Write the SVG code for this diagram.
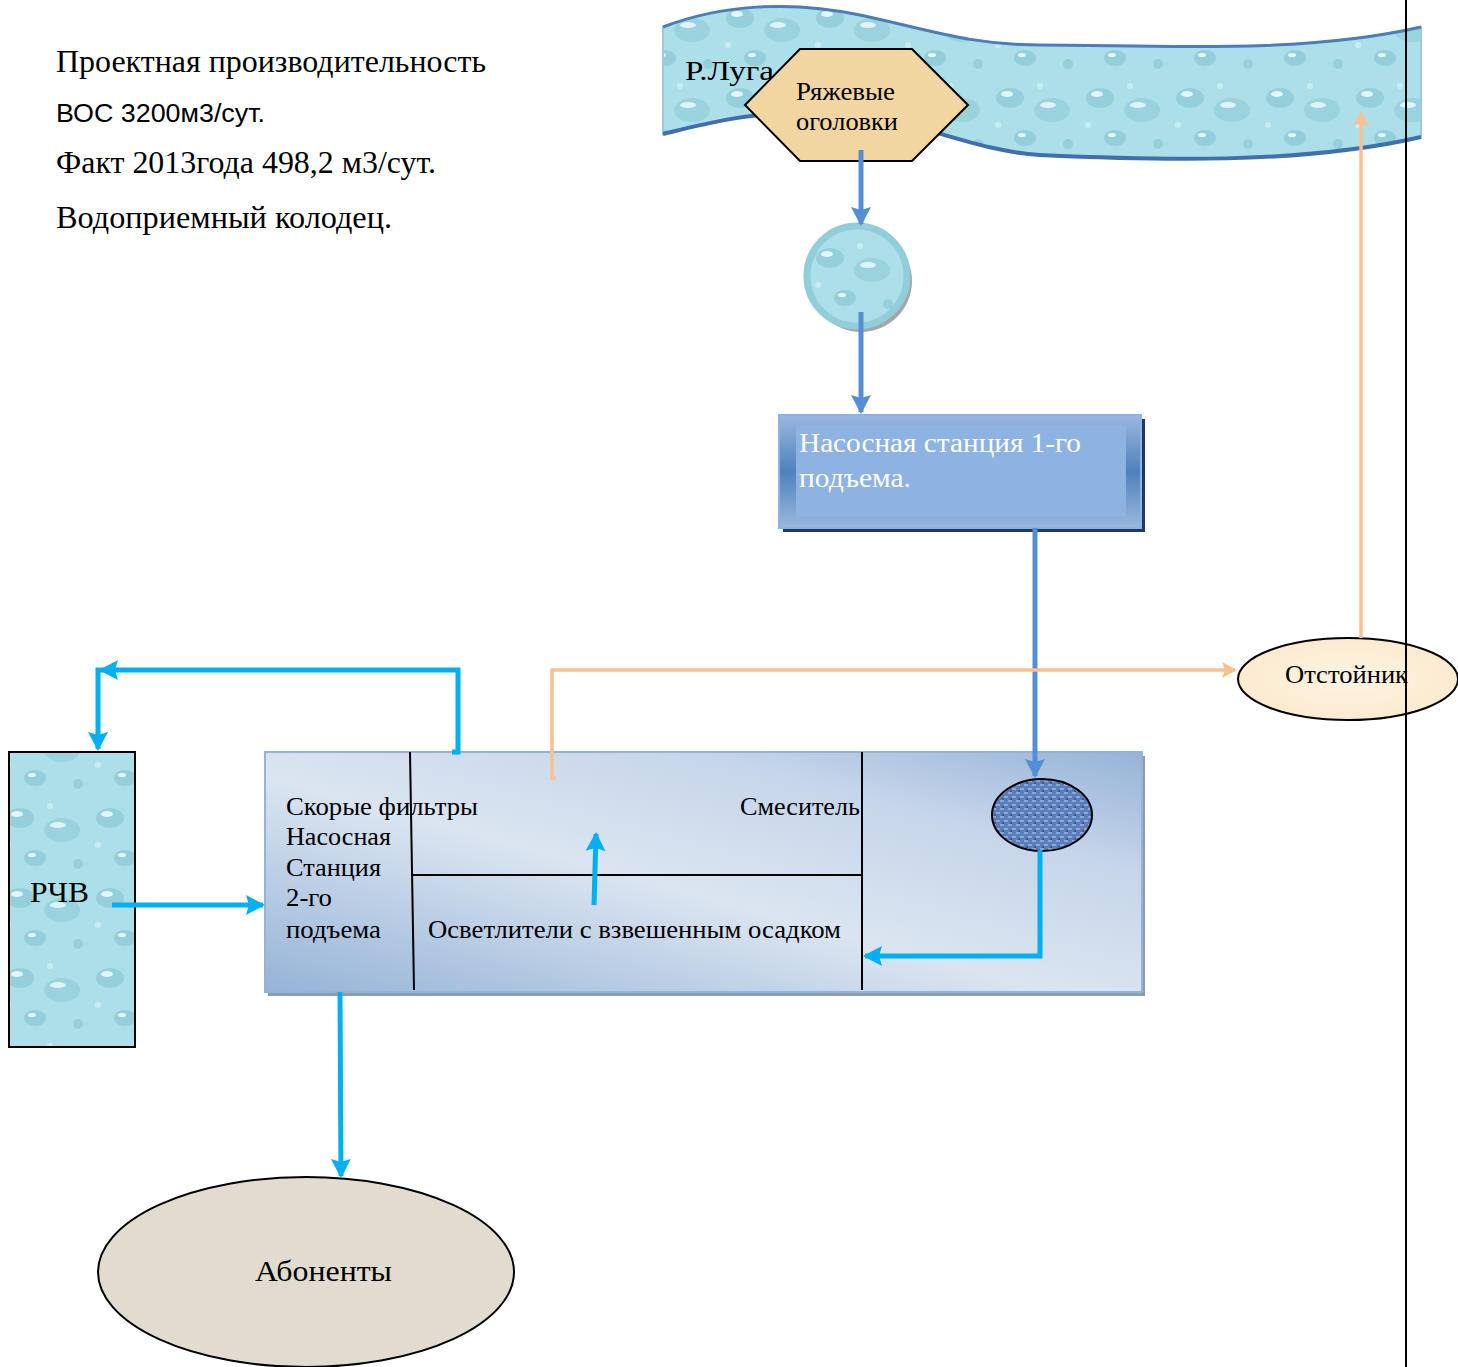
<svg xmlns="http://www.w3.org/2000/svg" width="1458" height="1367" viewBox="0 0 1458 1367">
<style>
.t{font-family:"Liberation Serif","Times New Roman",serif;fill:#000}
.a{font-family:"Liberation Sans",Arial,sans-serif;fill:#000}
.w{fill:#fff}
.cy{fill:none;stroke:#00b0f0;stroke-width:5}
.bl{fill:none;stroke:#558ed5;stroke-width:5}
.or{fill:none;stroke:#fac090;stroke-width:3.5}
.ln{stroke:#000;stroke-width:2;fill:none}
</style>
<defs>
<pattern id="water" width="90" height="80" patternUnits="userSpaceOnUse">
<rect width="90" height="80" fill="#addfe9"/>
<ellipse cx="20" cy="18" rx="14" ry="10" fill="#96cfdc"/>
<ellipse cx="17" cy="14" rx="6" ry="3" fill="#e3f6fa"/>
<ellipse cx="62" cy="30" rx="18" ry="12" fill="#9ad2de"/>
<ellipse cx="58" cy="25" rx="8" ry="3" fill="#dff4f8"/>
<ellipse cx="35" cy="58" rx="11" ry="8" fill="#94cedb"/>
<ellipse cx="32" cy="55" rx="4" ry="2" fill="#e6f7fa"/>
<circle cx="78" cy="64" r="5" fill="#96cfdc"/>
<circle cx="8" cy="45" r="3" fill="#c8edf4"/>
<circle cx="50" cy="6" r="3" fill="#c8edf4"/>
</pattern>
<pattern id="cloth" width="8" height="8" patternUnits="userSpaceOnUse">
<rect width="8" height="8" fill="#5a7cb8"/>
<rect x="0" y="0" width="4" height="2" fill="#8aa6d6"/>
<rect x="4" y="4" width="4" height="2" fill="#8aa6d6"/>
<rect x="2" y="6" width="2" height="2" fill="#3e5c94"/>
</pattern>
<linearGradient id="bigbox" x1="0" y1="1" x2="1" y2="0">
<stop offset="0" stop-color="#95b3d7"/>
<stop offset="0.45" stop-color="#dbe5f1"/>
<stop offset="0.75" stop-color="#c6d5ea"/>
<stop offset="1" stop-color="#95b3d7"/>
</linearGradient>
<linearGradient id="ns1" x1="0" y1="0" x2="0" y2="1">
<stop offset="0" stop-color="#9ab8df"/>
<stop offset="0.5" stop-color="#4f81bd"/>
<stop offset="1" stop-color="#9ab8df"/>
</linearGradient>
<radialGradient id="otst" cx="0.5" cy="0.5" r="0.6">
<stop offset="0" stop-color="#fdf3e2"/>
<stop offset="1" stop-color="#fbe9cc"/>
</radialGradient>
<marker id="mcy" markerWidth="22" markerHeight="22" refX="17" refY="10" orient="auto" markerUnits="userSpaceOnUse" overflow="visible"><path d="M0,0 L19,10 L0,20 L3,10 z" fill="#00b0f0"/></marker>
<marker id="mbl" markerWidth="22" markerHeight="22" refX="17" refY="10" orient="auto" markerUnits="userSpaceOnUse" overflow="visible"><path d="M0,0 L19,10 L0,20 L3,10 z" fill="#558ed5"/></marker>
<marker id="mor" markerWidth="18" markerHeight="18" refX="13" refY="8" orient="auto" markerUnits="userSpaceOnUse" overflow="visible"><path d="M0,0 L15,8 L0,16 L3,8 z" fill="#fac090"/></marker>
</defs>

<g id="info">
<text class="t" x="56" y="72" font-size="31" textLength="430" lengthAdjust="spacingAndGlyphs">Проектная производительность</text>
<text class="a" x="56" y="122" font-size="26" textLength="209" lengthAdjust="spacingAndGlyphs">ВОС 3200м3/сут.</text>
<text class="t" x="56" y="173" font-size="31" textLength="380" lengthAdjust="spacingAndGlyphs">Факт 2013года 498,2 м3/сут.</text>
<text class="t" x="56" y="228" font-size="31" textLength="336" lengthAdjust="spacingAndGlyphs">Водоприемный колодец.</text>
</g>

<g id="river">
<path d="M663,27 C720,5 790,0 860,15 C930,30 970,45 1040,45 C1150,45 1300,55 1421,27 L1421,137 C1300,165 1150,160 1040,155 C960,150 900,108 800,112 C740,114 700,125 663,134 Z" fill="url(#water)" stroke="#9ccbe0" stroke-width="2"/>
<path d="M663,27 C720,5 790,0 860,15 C930,30 970,45 1040,45 C1150,45 1300,55 1421,27" fill="none" stroke="#4a7ebb" stroke-width="3"/>
<path d="M663,134 C700,125 740,114 800,112 C900,108 960,150 1040,155 C1150,160 1300,165 1421,137" fill="none" stroke="#3f6fae" stroke-width="4"/>
<text class="t" x="685" y="80" font-size="28" textLength="89" lengthAdjust="spacingAndGlyphs">Р.Луга</text>
</g>

<g id="hex">
<polygon points="745,105 800,49 912,49 968,105 912,161 800,161" fill="#f2d6a2" stroke="#000" stroke-width="2"/>
<text class="t" x="796" y="100" font-size="25" textLength="99" lengthAdjust="spacingAndGlyphs">Ряжевые</text>
<text class="t" x="796" y="130" font-size="25" textLength="102" lengthAdjust="spacingAndGlyphs">оголовки</text>
</g>

<g id="well">
<circle cx="861" cy="281" r="51" fill="#a6a6a6"/>
<circle cx="857" cy="276" r="50" fill="url(#water)" stroke="#92cddc" stroke-width="7"/>
</g>

<g id="ns1box">
<rect x="783" y="419" width="362" height="113" fill="#1f3864"/>
<rect x="779" y="415" width="362" height="113" fill="url(#ns1)" stroke="#8db3e2" stroke-width="2"/>
<rect x="796" y="425" width="330" height="92" fill="#8db3e2"/>
<text class="t w" x="799" y="452" font-size="28" textLength="282" lengthAdjust="spacingAndGlyphs">Насосная станция 1-го</text>
<text class="t w" x="799" y="487" font-size="28" textLength="112" lengthAdjust="spacingAndGlyphs">подъема.</text>
</g>

<g id="plant">
<rect x="268" y="756" width="877" height="240" fill="#8e9cb0"/>
<rect x="265" y="752" width="877" height="240" fill="url(#bigbox)" stroke="#95b3d7" stroke-width="2"/>
<line class="ln" x1="410" y1="752" x2="414" y2="990"/>
<line class="ln" x1="411" y1="875" x2="862" y2="875"/>
<line class="ln" x1="862" y1="752" x2="862" y2="990"/>
<text class="t" x="286" y="815" font-size="26" textLength="192" lengthAdjust="spacingAndGlyphs">Скорые фильтры</text>
<text class="t" x="286" y="845" font-size="26" textLength="105" lengthAdjust="spacingAndGlyphs">Насосная</text>
<text class="t" x="286" y="876" font-size="26" textLength="95" lengthAdjust="spacingAndGlyphs">Станция</text>
<text class="t" x="286" y="906" font-size="26" textLength="46" lengthAdjust="spacingAndGlyphs">2-го</text>
<text class="t" x="286" y="938" font-size="26" textLength="95" lengthAdjust="spacingAndGlyphs">подъема</text>
<text class="t" x="740" y="815" font-size="26" textLength="120" lengthAdjust="spacingAndGlyphs">Смеситель</text>
<text class="t" x="428" y="938" font-size="26" textLength="413" lengthAdjust="spacingAndGlyphs">Осветлители с взвешенным осадком</text>
<ellipse cx="1042" cy="815" rx="50" ry="36" fill="url(#cloth)" stroke="#000" stroke-width="2"/>
</g>

<g id="otstoinik">
<ellipse cx="1348" cy="679" rx="110" ry="41" fill="url(#otst)" stroke="#000" stroke-width="2"/>
<text class="t" x="1285" y="683" font-size="26" textLength="123" lengthAdjust="spacingAndGlyphs">Отстойник</text>
</g>

<g id="rchv">
<rect x="9" y="752" width="126" height="295" fill="url(#water)" stroke="#000" stroke-width="2"/>
<text class="t" x="30" y="902" font-size="30" textLength="59" lengthAdjust="spacingAndGlyphs">РЧВ</text>
</g>

<g id="abonenty">
<ellipse cx="306" cy="1272" rx="208" ry="95" fill="#e2dbcf" stroke="#000" stroke-width="2"/>
<text class="t" x="255" y="1281" font-size="30" textLength="137" lengthAdjust="spacingAndGlyphs">Абоненты</text>
</g>

<g id="connectors">
<path class="bl" d="M861,150 L861,224" marker-end="url(#mbl)"/>
<path class="bl" d="M861,312 L861,412" marker-end="url(#mbl)"/>
<path class="bl" d="M1035,528 L1035,776" marker-end="url(#mbl)"/>
<path class="or" d="M556,778 L552,778 L552,670 L1235,670" marker-end="url(#mor)"/>
<path class="or" d="M1361,638 L1361,113" marker-end="url(#mor)"/>
<path class="cy" d="M1040,850 L1040,956 L865,956" marker-end="url(#mcy)"/>
<path class="cy" d="M594,905 L596,834" marker-end="url(#mcy)"/>
<path class="cy" d="M452,752 L458,752 L458,670 L98,670 L98,749" marker-end="url(#mcy)"/>
<polygon points="99,670 118,660 115,670 118,680" fill="#00b0f0"/>
<path class="cy" d="M112,905 L263,905" marker-end="url(#mcy)"/>
<path class="cy" d="M340,992 L341,1176" marker-end="url(#mcy)"/>
</g>

<g id="border">
<line x1="1406" y1="0" x2="1406" y2="1367" stroke="#000" stroke-width="2"/>
</g>
</svg>
